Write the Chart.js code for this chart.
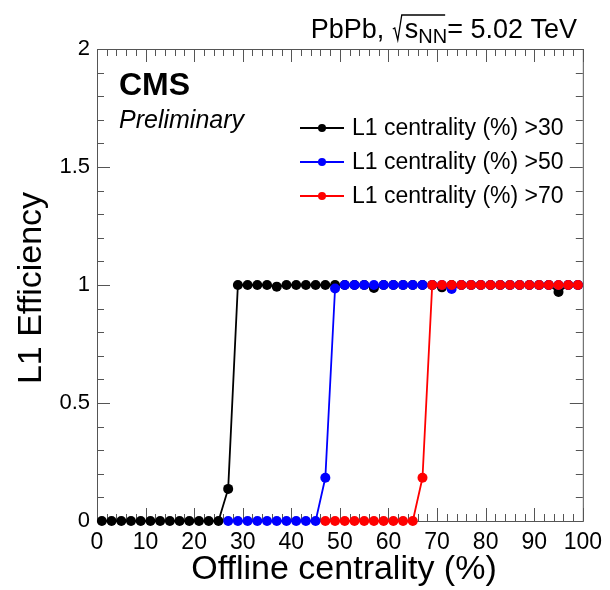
<!DOCTYPE html>
<html>
<head>
<meta charset="utf-8">
<script src="https://cdn.jsdelivr.net/npm/chart.js@4.4.0/dist/chart.umd.min.js"></script>
<style>
  body { margin: 0; background: #fff; }
  #chart { display: block; }
</style>
</head>
<body>
<canvas id="chart" width="610" height="590"></canvas>
<script>
// offline centrality bin centres (%)
const centrality = [1, 3, 5, 7, 9, 11, 13, 15, 17, 19, 21, 23, 25, 27, 29, 31, 33, 35, 37, 39,
  41, 43, 45, 47, 49, 51, 53, 55, 57, 59, 61, 63, 65, 67, 69, 71, 73, 75, 77, 79,
  81, 83, 85, 87, 89, 91, 93, 95, 97, 99];

// L1 efficiency per threshold (null = bin not filled for that graph)
const effGt30 = [0, 0, 0, 0, 0, 0, 0, 0, 0, 0, 0, 0, 0, 0.136, 1, 1, 1, 1, 0.993, 1,
  1, 1, 1, 1, 1, 1, 1, 1, 0.987, 1, 1, 1, 1, 1, 1, 0.99, 1, 1, 1, 1,
  1, 1, 1, 1, 1, 1, 1, 0.97, 1, 1];
const effGt50 = [null, null, null, null, null, null, null, null, null, null, null, null, null, 0, 0, 0, 0, 0, 0, 0,
  0, 0, 0, 0.183, 0.985, 1, 1, 1, 1, 1, 1, 1, 1, 1, 1, 1, 0.983, 1, 1, 1,
  1, 1, 1, 1, 1, 1, 1, 1, 1, 1];
const effGt70 = [null, null, null, null, null, null, null, null, null, null, null, null, null, null, null, null, null, null, null, null,
  null, null, null, 0, 0, 0, 0, 0, 0, 0, 0, 0, 0, 0.183, 1, 1, 1, 1, 1, 1,
  1, 1, 1, 1, 1, 1, 1, 1, 1, 1];

const seriesLabels = ['L1 centrality (%) >30', 'L1 centrality (%) >50', 'L1 centrality (%) >70'];
const seriesColors = ['#000000', '#0000ff', '#ff0000'];

const xTickValues = [0, 10, 20, 30, 40, 50, 60, 70, 80, 90, 100];
const yTickValues = [0, 0.5, 1, 1.5, 2];

const FONT = "'Liberation Sans', Arial, Helvetica, sans-serif";

function points(eff) {
  return centrality.map((x, i) => ({ x: x, y: eff[i] }));
}

// ROOT style frame: box with inward ticks on all four sides
const frame = {
  id: 'frame',
  beforeDatasetsDraw(chart) {
    const ctx = chart.ctx;
    const { left, right, top, bottom } = chart.chartArea;
    const xs = chart.scales.x, ys = chart.scales.y;
    ctx.save();
    ctx.strokeStyle = '#555';
    ctx.lineWidth = 1;
    ctx.strokeRect(left + 0.5, top + 0.5, right - left, bottom - top);
    ctx.beginPath();
    for (let k = 0; k <= 50; k++) {
      const px = Math.round(xs.getPixelForValue(k * 2)) + 0.5;
      const len = k % 5 === 0 ? 13 : 7;
      ctx.moveTo(px, bottom); ctx.lineTo(px, bottom - len);
      ctx.moveTo(px, top); ctx.lineTo(px, top + len);
    }
    for (let k = 0; k <= 20; k++) {
      const py = Math.round(ys.getPixelForValue(k / 10)) + 0.5;
      const len = k % 5 === 0 ? 13 : 7;
      ctx.moveTo(left, py); ctx.lineTo(left + len, py);
      ctx.moveTo(right, py); ctx.lineTo(right - len, py);
    }
    ctx.stroke();
    ctx.restore();
  },
  afterDraw(chart) {
    const ctx = chart.ctx;
    ctx.save();
    ctx.fillStyle = '#000';
    ctx.textBaseline = 'alphabetic';

    // axis titles
    ctx.font = '34px ' + FONT;
    ctx.textAlign = 'center';
    ctx.fillText('Offline centrality (%)', 344, 579);
    ctx.save();
    ctx.translate(41, 288);
    ctx.rotate(-Math.PI / 2);
    ctx.fillText('L1 Efficiency', 0, 0);
    ctx.restore();

    // CMS label
    ctx.textAlign = 'left';
    ctx.font = 'bold 32px ' + FONT;
    ctx.fillText('CMS', 119, 95);
    ctx.font = 'italic 25px ' + FONT;
    ctx.fillText('Preliminary', 119, 128);

    // collision system, right aligned
    const base = 38;
    const big = '27px ' + FONT, small = '20px ' + FONT;
    ctx.font = big;
    const wA = ctx.measureText('PbPb, ').width;
    const wS = ctx.measureText('s').width;
    const wE = ctx.measureText('= 5.02 TeV').width;
    ctx.font = small;
    const wN = ctx.measureText('NN').width;
    const wR = 13;
    let x = 577 - (wA + wR + wS + wN + wE);
    ctx.font = big;
    ctx.fillText('PbPb, ', x, base);
    x += wA;
    ctx.strokeStyle = '#000';
    ctx.lineWidth = 1.3;
    ctx.beginPath();
    ctx.moveTo(x + 1, base - 9);
    ctx.lineTo(x + 3, base - 10);
    ctx.lineTo(x + 6, base + 2);
    ctx.lineTo(x + 10, base - 23);
    ctx.lineTo(x + wR + wS + wN - 2, base - 23);
    ctx.stroke();
    x += wR;
    ctx.fillText('s', x, base);
    x += wS;
    ctx.font = small;
    ctx.fillText('NN', x, base + 5);
    x += wN;
    ctx.font = big;
    ctx.fillText('= 5.02 TeV', x, base);

    // legend
    const rows = [128, 162, 196];
    ctx.font = '23px ' + FONT;
    ctx.textBaseline = 'middle';
    seriesLabels.forEach((label, i) => {
      const y = rows[i];
      ctx.strokeStyle = seriesColors[i];
      ctx.lineWidth = 2;
      ctx.beginPath();
      ctx.moveTo(300, y); ctx.lineTo(344, y);
      ctx.stroke();
      ctx.fillStyle = seriesColors[i];
      ctx.beginPath();
      ctx.arc(322, y, 4, 0, Math.PI * 2);
      ctx.fill();
      ctx.fillStyle = '#000';
      ctx.fillText(label, 352, y + 1);
    });
    ctx.restore();
  }
};

function dataset(i, eff, order) {
  return {
    label: seriesLabels[i],
    data: points(eff),
    borderColor: seriesColors[i],
    backgroundColor: seriesColors[i],
    pointBackgroundColor: seriesColors[i],
    pointBorderWidth: 0,
    pointRadius: 5,
    borderWidth: 1.8,
    tension: 0,
    spanGaps: false,
    clip: false,
    order: order
  };
}

new Chart(document.getElementById('chart'), {
  type: 'line',
  data: {
    datasets: [
      dataset(0, effGt30, 2),
      dataset(1, effGt50, 1),
      dataset(2, effGt70, 0)
    ]
  },
  options: {
    responsive: false,
    animation: false,
    events: [],
    layout: { padding: { top: 49, right: 26, left: 0, bottom: 0 } },
    plugins: { legend: { display: false }, tooltip: { enabled: false } },
    scales: {
      x: {
        type: 'linear',
        min: 0,
        max: 100,
        grid: { display: false, drawTicks: false },
        border: { display: false },
        afterFit(s) { s.height = 69; },
        afterBuildTicks(s) { s.ticks = xTickValues.map(v => ({ value: v })); },
        ticks: {
          color: '#000',
          font: { family: FONT, size: 23 },
          padding: 8,
          maxRotation: 0,
          autoSkip: false,
          callback: v => String(v)
        }
      },
      y: {
        min: 0,
        max: 2,
        grid: { display: false, drawTicks: false },
        border: { display: false },
        afterFit(s) { s.width = 97; },
        afterBuildTicks(s) { s.ticks = yTickValues.map(v => ({ value: v })); },
        ticks: {
          color: '#000',
          font: { family: FONT, size: 22 },
          padding: 7,
          autoSkip: false,
          callback: v => String(v)
        }
      }
    }
  },
  plugins: [frame]
});
</script>
</body>
</html>
